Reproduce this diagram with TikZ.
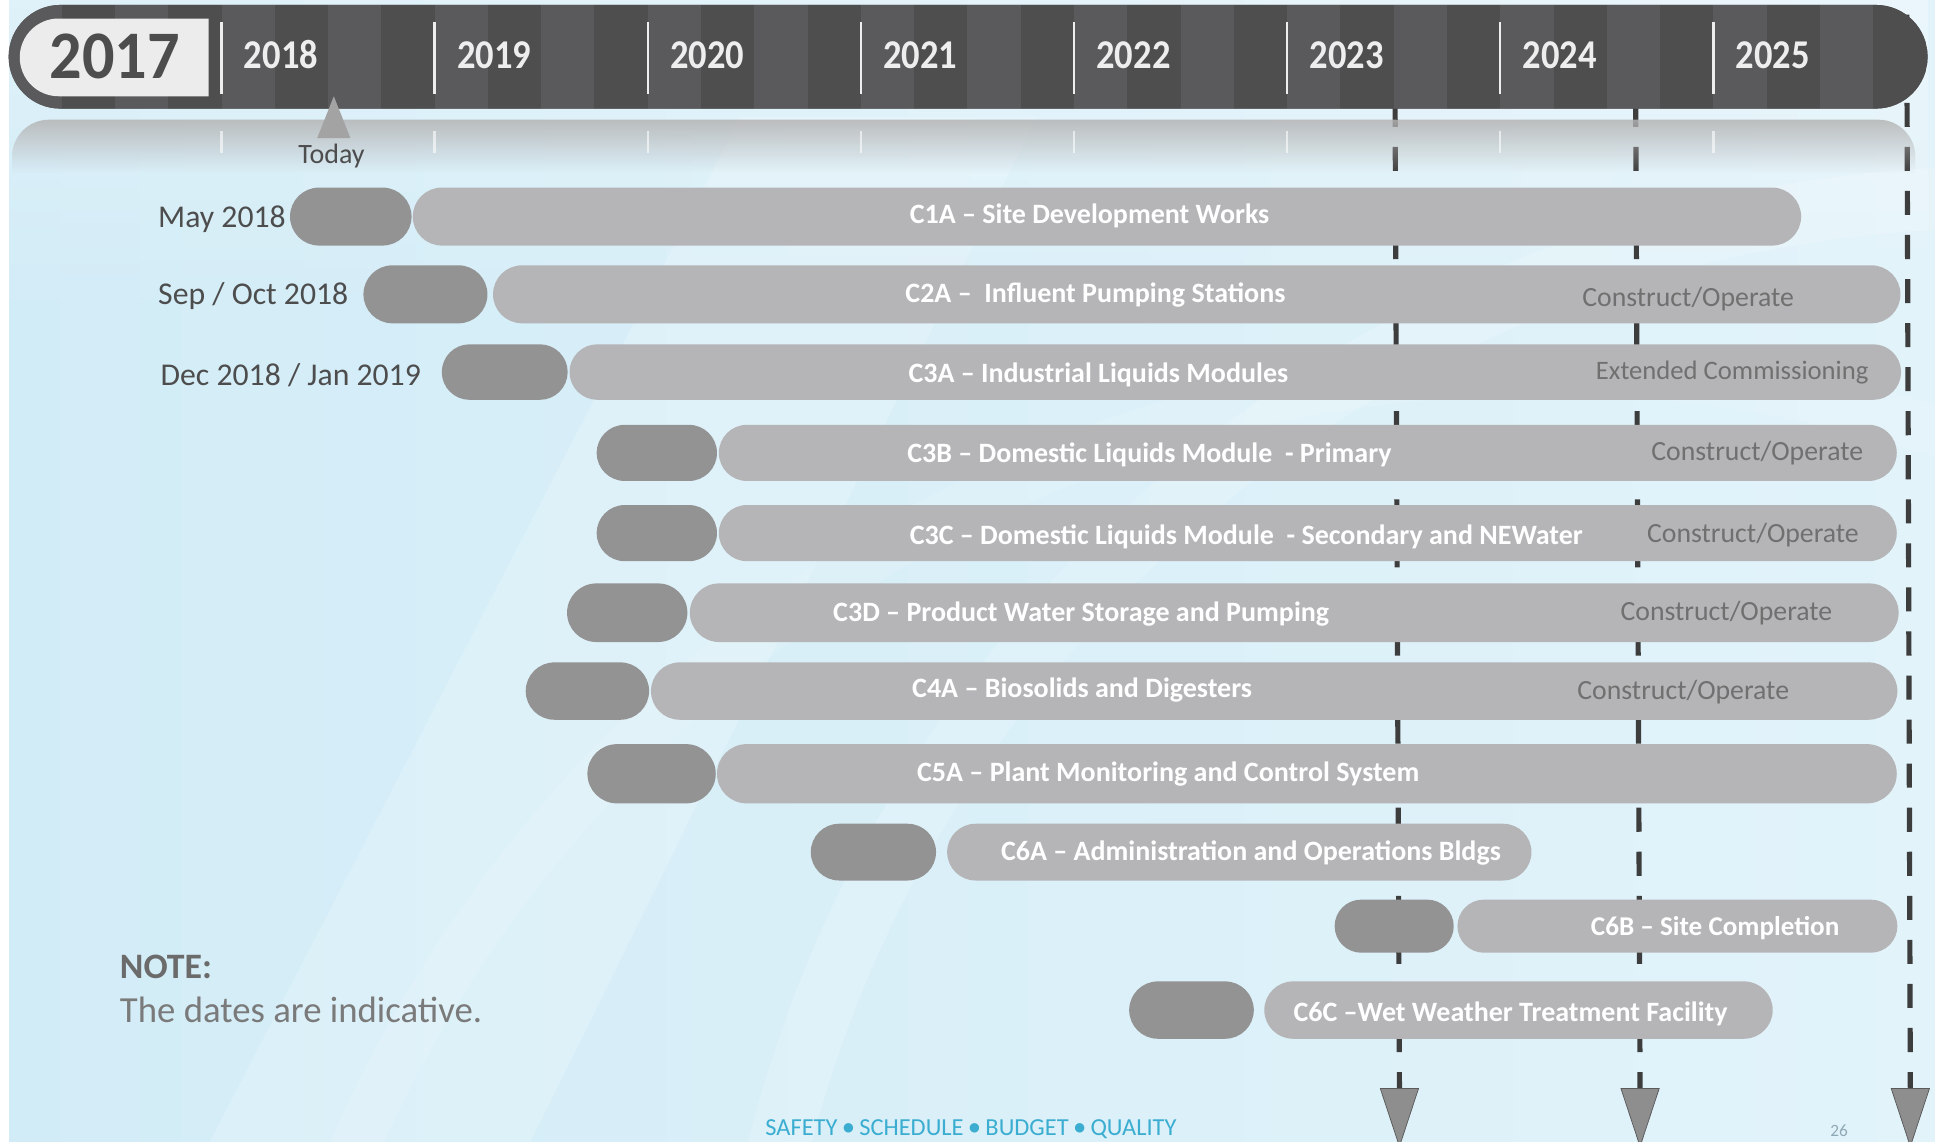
\documentclass[tikz,border=0pt]{standalone}
\usepackage{fontspec}
\usepackage{graphicx}
\setmainfont{Carlito}
\newfontfamily\djv{DejaVu Sans}
\usetikzlibrary{shapes.misc,fadings,calc}
\definecolor{bgleft}{HTML}{D2ECF7}
\definecolor{bgright}{HTML}{E2F3FA}
\definecolor{pilldark}{HTML}{939393}
\definecolor{pilllight}{HTML}{B5B5B7}
\definecolor{phasegray}{HTML}{707070}
\definecolor{dategray}{HTML}{4D4D4D}
\definecolor{yearwhite}{HTML}{EEEEEE}
\definecolor{stripeA}{HTML}{5A5A5C}
\definecolor{stripeB}{HTML}{4E4E4E}
\definecolor{barbase}{HTML}{545455}
\definecolor{boxgray}{HTML}{ECECEC}
\definecolor{dashgray}{HTML}{3D3D3D}
\definecolor{arrowgray}{HTML}{8E8E8E}
\definecolor{arrowedge}{HTML}{5A5A5A}
\definecolor{todaygray}{HTML}{A3A3A3}
\definecolor{reflgray}{HTML}{B4B4B4}
\definecolor{notegray}{HTML}{6B6B6B}
\definecolor{footteal}{HTML}{3AADD0}
\definecolor{pagegray}{HTML}{8FA9B5}
\tikzfading[name=fadedown, top color=transparent!15, bottom color=transparent!100]
\newcommand\footdot{\raisebox{3pt}{\djv\fontsize{10}{10}\selectfont ●}}
\begin{document}
\begin{tikzpicture}[x=1pt,y=-1pt,
  darkpill/.style={rounded rectangle, fill=pilldark, inner sep=0pt, outer sep=0pt},
  lightpill/.style={rounded rectangle, fill=pilllight, inner sep=0pt, outer sep=0pt},
  barlbl/.style={anchor=base west, inner sep=0pt, text=white, font=\bfseries\fontsize{22.7}{27}\selectfont},
  phaselbl/.style={anchor=base west, inner sep=0pt, text=phasegray, font=\fontsize{22.5}{27}\selectfont},
  datelbl/.style={anchor=base west, inner sep=0pt, text=dategray, font=\fontsize{25.7}{30}\selectfont},
  yearlbl/.style={anchor=base west, inner sep=0pt, text=yearwhite, font=\bfseries\fontsize{29.6}{34}\selectfont},
  vdash/.style={draw=dashgray, line width=4.2pt, dash pattern=on 19.5pt off 16.2pt},
  arrowhd/.style={fill=arrowgray, draw=arrowedge, line width=0.6pt},
  sepline/.style={draw=yearwhite, line width=2pt},
]
\useasboundingbox (0,0) rectangle (1568,925);
\clip (0,0) rectangle (1568,925);

% background
\shade[left color=bgleft, right color=bgright] (0,0) rectangle (1568,925);
\fill[white, opacity=0.35, path fading=fadedown] (0,0) rectangle (1568,260);
\fill[white, opacity=0.18] (170,925) -- (430,925) -- (840,95) -- (600,95) -- cycle;
\draw[white, opacity=0.16, line width=50pt] (1620,1180) circle[radius=1020pt];
\draw[white, opacity=0.12, line width=40pt] (1250,1350) circle[radius=1050pt];
\fill[white] (0,0) rectangle (7,925);

% dashed milestone lines (behind the bars)
\coordinate (v1t) at (1130,-23.8); \coordinate (v1b) at (1134,882);
\coordinate (v2t) at (1325,-23.8); \coordinate (v2b) at (1329,882);
\coordinate (v3t) at (1545,-23.8); \coordinate (v3b) at (1548,882);
\draw[vdash] (v1t) -- (v1b);
\draw[vdash] (v2t) -- (v2b);
\draw[vdash] (v3t) -- (v3b);
\foreach \v in {v1b,v2b,v3b}{
  \path[arrowhd] ($(\v)+(-15.5,0)$) -- ($(\v)+(15.5,0)$) -- ($(\v)+(0,47)$) -- cycle;
}

% reflection under the timeline bar
\fill[reflgray, path fading=fadedown] (11,140) [rounded corners=30pt] -- (11,97) -- (1556,97) [sharp corners] -- (1556,140) -- cycle;
\foreach \j in {0,...,7}{
  \draw[white, opacity=0.6, line width=2pt] (179.5+172.7*\j,106) -- (179.5+172.7*\j,124);
}

% timeline bar
\node[rounded rectangle, fill=barbase, inner sep=0pt, minimum width=1555pt, minimum height=84pt] (topbar) at (784.5,46) {};
\begin{scope}
  \clip[rounded corners=41.9pt] (7,4) rectangle (1562,88);
  \foreach \i in {-4,...,32}{
    \ifodd\i \def\sc{stripeB}\else\def\sc{stripeA}\fi
    \fill[\sc] (179.5+\i*43.175,0) rectangle (179.5+\i*43.175+43.175,100);
  }
\end{scope}
\node[rounded rectangle, rounded rectangle right arc=none, fill=boxgray, inner sep=0pt,
      minimum width=153pt, minimum height=63pt] (box17) at (92.5,46.5) {};
\node[anchor=base, inner sep=0pt, text=dategray, font=\bfseries\fontsize{52}{56}\selectfont] (y2017) at (93,63.5) {\scalebox{1}[1.06]{2017}};
\foreach \j/\yr in {0/2018,1/2019,2/2020,3/2021,4/2022,5/2023,6/2024,7/2025}{
  \draw[sepline] (179.5+172.7*\j,18) -- (179.5+172.7*\j,76);
  \node[yearlbl] (y\yr) at (197.5+172.7*\j,55.4) {\scalebox{1}[1.12]{\yr}};
}

% today marker
\coordinate (tdA) at (270.5,78);
\path[fill=todaygray] (257,112) -- (284,112) -- (tdA) -- cycle;
\node[anchor=base, inner sep=0pt, text=dategray, font=\fontsize{22.7}{26}\selectfont] (today) at (268.6,132.3) {Today};

% bars
\foreach \n/\da/\db/\la/\lb/\c/\h in {
 1/235/333.5/334.5/1459.5/175.5/47,
 2/294.5/395/399.5/1540/238.5/47,
 3/358/460/461.5/1540.5/301.5/45,
 4/483.5/581/582.5/1537/367/45.5,
 5/483.5/581/582.5/1537/432/45.5,
 6/459.5/557/559/1538.5/496.5/47.5,
 7/426/526/527.5/1537.5/560/46.5,
 8/476/580/581/1537/627/48,
 9/657/758.5/767.5/1241/690.5/46,
 10/1081.5/1178/1181/1537.5/750.5/43,
 11/915/1016/1024.5/1436.5/818.5/46.5}
{
 \pgfmathsetmacro\dw{\db-\da}
 \pgfmathsetmacro\dc{(\da+\db)/2}
 \pgfmathsetmacro\lw{\lb-\la}
 \pgfmathsetmacro\lc{(\la+\lb)/2}
 \node[darkpill, minimum width=\dw pt, minimum height=\h pt] (d\n) at (\dc,\c) {};
 \node[lightpill, minimum width=\lw pt, minimum height=\h pt] (l\n) at (\lc,\c) {};
}

% bar labels
\node[barlbl] (t1) at (737,181) {C1A – Site Development Works};
\node[barlbl] (t2) at (733.5,245) {C2A –\ \ Influent Pumping Stations};
\node[barlbl] (t3) at (736,310) {C3A – Industrial Liquids Modules};
\node[barlbl] (t4) at (735,374.5) {C3B – Domestic Liquids Module\ \ - Primary};
\node[barlbl] (t5) at (737,441) {C3C – Domestic Liquids Module\ \ - Secondary and NEWater};
\node[barlbl] (t6) at (675,504) {C3D – Product Water Storage and Pumping};
\node[barlbl] (t7) at (739,565) {C4A – Biosolids and Digesters};
\node[barlbl] (t8) at (743,633) {C5A – Plant Monitoring and Control System};
\node[barlbl] (t9) at (811,697) {C6A – Administration and Operations Bldgs};
\node[barlbl, font=\bfseries\fontsize{22}{27}\selectfont] (t10) at (1289,758) {C6B – Site Completion};
\node[barlbl] (t11) at (1048,828) {C6C –Wet Weather Treatment Facility};

% phase labels
\node[phaselbl] (p2) at (1282,248) {Construct/Operate};
\node[phaselbl, font=\fontsize{21.6}{27}\selectfont] (p3) at (1293,307.6) {Extended Commissioning};
\node[phaselbl] (p4) at (1338,373) {Construct/Operate};
\node[phaselbl] (p5) at (1334.5,439.5) {Construct/Operate};
\node[phaselbl] (p6) at (1313,503) {Construct/Operate};
\node[phaselbl] (p7) at (1278,567) {Construct/Operate};

% dates
\node[datelbl] (dt1) at (128,184) {May 2018};
\node[datelbl] (dt2) at (128,246.5) {Sep / Oct 2018};
\node[datelbl] (dt3) at (130,312) {Dec 2018 / Jan 2019};

% note
\node[anchor=base west, inner sep=0pt, text=notegray, font=\bfseries\fontsize{29}{33}\selectfont] (note) at (97,792.8) {NOTE:};
\node[anchor=base west, inner sep=0pt, text=notegray!90!white, font=\fontsize{29.8}{33}\selectfont] (notetxt) at (97,828.7) {The dates are indicative.};

% footer
\node[anchor=base west, inner sep=0pt, text=footteal, font=\fontsize{19.8}{20}\selectfont] (foot) at (620,920)
  {SAFETY \footdot{} SCHEDULE \footdot{} BUDGET \footdot{} QUALITY};
\node[anchor=base west, inner sep=0pt, text=pagegray, font=\fontsize{14}{15}\selectfont] (page) at (1483,921) {26};
\end{tikzpicture}
\end{document}
